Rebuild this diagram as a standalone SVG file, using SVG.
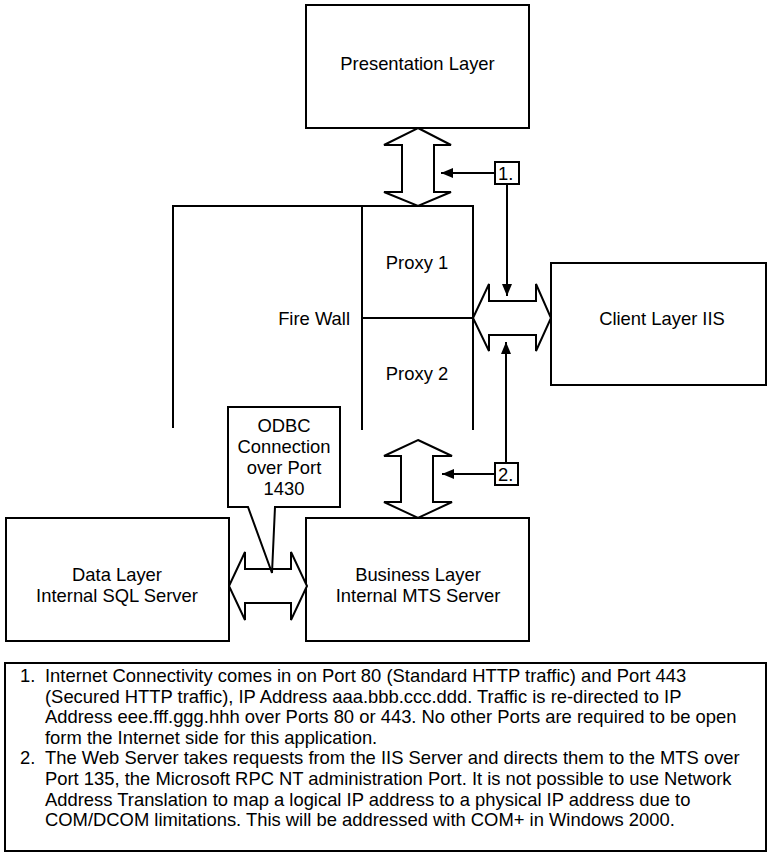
<svg xmlns="http://www.w3.org/2000/svg" width="768" height="853" viewBox="0 0 768 853">
<defs>
<style>
.box{fill:#fff;stroke:#000;stroke-width:2}
.ln{fill:none;stroke:#000;stroke-width:2}
.dbl{fill:#fff;stroke:#000;stroke-width:2;stroke-linejoin:miter}
.t{font-family:"Liberation Sans",Arial,sans-serif;font-size:18.4px;fill:#000}
.c{text-anchor:middle}
</style>
<marker id="ah" markerWidth="12" markerHeight="10" refX="12" refY="5" orient="auto" markerUnits="userSpaceOnUse">
<path d="M0,0 L12,5 L0,10 Z" fill="#000"/>
</marker>
</defs>
<rect width="768" height="853" fill="#fff"/>

<g id="presentation">
<rect class="box" x="306" y="5" width="223" height="123"/>
<text class="t c" x="417.5" y="70">Presentation Layer</text>
</g>

<g id="firewall">
<path class="ln" d="M173,428 V206 H473 V430 M362,206 V430 M362,318 H473"/>
<text class="t" x="350" y="325" text-anchor="end">Fire Wall</text>
<text class="t c" x="417" y="269">Proxy 1</text>
<text class="t c" x="417" y="380">Proxy 2</text>
</g>

<g id="client">
<rect class="box" x="551" y="263" width="215" height="122"/>
<text class="t c" x="662" y="325">Client Layer IIS</text>
</g>

<g id="data">
<rect class="box" x="6" y="518" width="223" height="123"/>
<text class="t c" x="117" y="581">Data Layer</text>
<text class="t c" x="117" y="602">Internal SQL Server</text>
</g>

<g id="business">
<rect class="box" x="306" y="518" width="223" height="123"/>
<text class="t c" x="418" y="581">Business Layer</text>
<text class="t c" x="418" y="602">Internal MTS Server</text>
</g>

<g id="connectors">
<path class="dbl" d="M418,128 L451,145 H434 V192 H451 L418,206 L384,192 H402 V145 H384 Z"/>
<path class="dbl" d="M418,440 L452,456 H433 V502 H452 L418,518 L384,502 H401 V456 H384 Z"/>
<path class="dbl" d="M473,318 L489,284 V301 H536 V284 L551,318 L536,351 V335 H489 V351 Z"/>
<path class="dbl" d="M229,586 L245,552 V569 H291 V552 L307,586 L291,620 V603 H245 V620 Z"/>
<line class="ln" x1="495" y1="173" x2="441" y2="173" marker-end="url(#ah)"/>
<line class="ln" x1="507" y1="184" x2="507" y2="296" marker-end="url(#ah)"/>
<line class="ln" x1="495" y1="474" x2="442" y2="474" marker-end="url(#ah)"/>
<line class="ln" x1="506" y1="463" x2="506" y2="342" marker-end="url(#ah)"/>
</g>

<g id="label1">
<rect class="box" x="495" y="162" width="24" height="22"/>
<text class="t" x="498" y="180">1.</text>
</g>
<g id="label2">
<rect class="box" x="495" y="463" width="23" height="22"/>
<text class="t" x="498" y="481">2.</text>
</g>

<g id="odbc">
<path class="box" d="M228,407 H340 V507 H275 L272,573 L248,507 H228 Z"/>
<text class="t c" x="284" y="432">ODBC</text>
<text class="t c" x="284" y="453">Connection</text>
<text class="t c" x="284" y="474">over Port</text>
<text class="t c" x="284" y="495">1430</text>
</g>

<g id="notes">
<rect class="box" x="5" y="663" width="761" height="188"/>
<text class="t" x="20" y="682">1.</text>
<text class="t" x="45" y="682">Internet Connectivity comes in on Port 80 (Standard HTTP traffic) and Port 443</text>
<text class="t" x="45" y="702.6">(Secured HTTP traffic), IP Address aaa.bbb.ccc.ddd. Traffic is re-directed to IP</text>
<text class="t" x="45" y="723.2">Address eee.fff.ggg.hhh over Ports 80 or 443. No other Ports are required to be open</text>
<text class="t" x="45" y="743.8">form the Internet side for this application.</text>
<text class="t" x="20" y="764.4">2.</text>
<text class="t" x="45" y="764.4">The Web Server takes requests from the IIS Server and directs them to the MTS over</text>
<text class="t" x="45" y="785">Port 135, the Microsoft RPC NT administration Port. It is not possible to use Network</text>
<text class="t" x="45" y="805.6">Address Translation to map a logical IP address to a physical IP address due to</text>
<text class="t" x="45" y="826.2">COM/DCOM limitations. This will be addressed with COM+ in Windows 2000.</text>
</g>
</svg>
